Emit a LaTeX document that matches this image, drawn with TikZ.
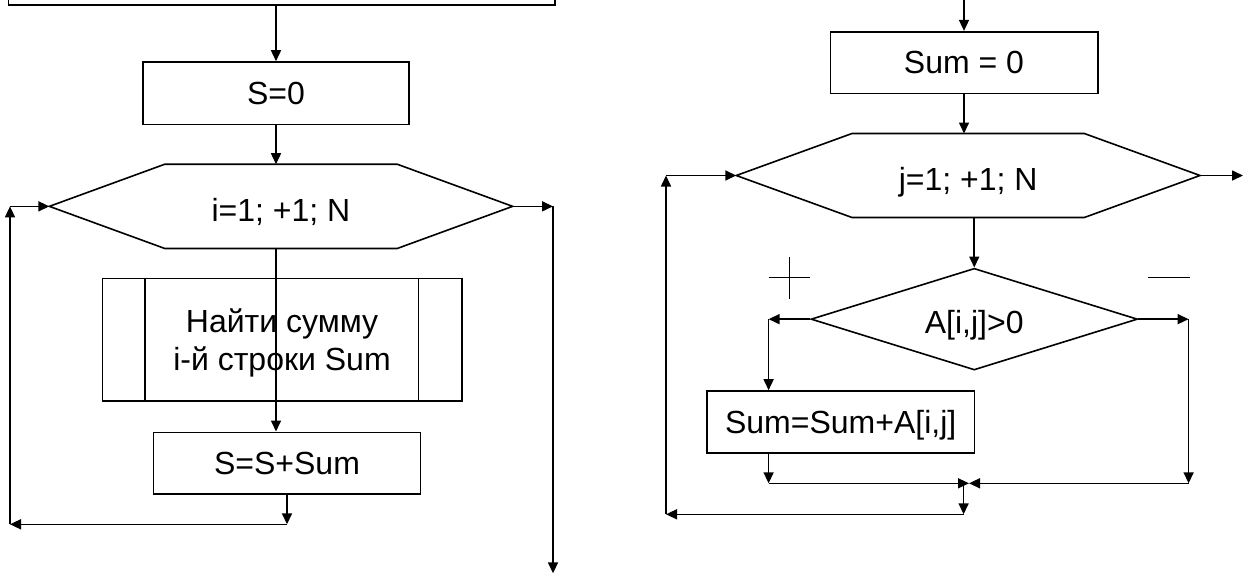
\documentclass[tikz,border=0pt]{standalone}
\usepackage{fontspec}
\setmainfont{Liberation Sans}
\usetikzlibrary{arrows.meta,shapes.geometric}
\begin{document}
\begin{tikzpicture}[x=1pt,y=-1pt,line width=1.6pt,
  every node/.style={font=\fontsize{32}{38}\selectfont, inner sep=0pt},
  box/.style={draw, rectangle, fill=white, text depth=0pt},
  hexbox/.style={rectangle, draw=none},
  lbl/.style={text depth=0pt},
  dia/.style={draw, diamond, text depth=0pt},
  arr/.style={-{Triangle[length=11pt,width=10pt]}},
  sign/.style={line width=1pt}]
\useasboundingbox (0,0) rectangle (1244,582);
% ---------------- left part ----------------
\node[box, minimum width=546.7pt, minimum height=60pt] (top) at (281.65,-25) {};
\node[box, minimum width=266pt, minimum height=62.3pt] (s0) at (276,93.15) {S=0};
\draw[arr] (top.south -| s0.north) -- (s0.north);
\node[hexbox, minimum width=461.7pt, minimum height=82.7pt] (h1) at (281,206.35) {};
\node[lbl] (h1t) at (281,210) {i=1; +1; N};
\draw (h1.west) -- ([xshift=115.5pt]h1.north west) -- ([xshift=-115.5pt]h1.north east)
  -- (h1.east) -- ([xshift=-115.5pt]h1.south east) -- ([xshift=115.5pt]h1.south west) -- cycle;
\draw[arr] (s0.south) -- (s0.south |- h1.north);
\node[box, minimum width=359.4pt, minimum height=122.7pt, align=center] (p) at (282,339.65)
  {Найти сумму\\i-й строки Sum};
\draw ([xshift=43.4pt]p.north west) -- ([xshift=43.4pt]p.south west);
\draw ([xshift=-44pt]p.north east) -- ([xshift=-44pt]p.south east);
\node[box, minimum width=267.1pt, minimum height=61.7pt] (ssum) at (287,463.15) {S=S+Sum};
\draw[arr] ([xshift=-5pt]h1.south) -- ([xshift=-5pt]h1.south |- ssum.north);
\coordinate (lb) at (287,524.3);
\coordinate (ll) at (10,524.3);
\draw[arr] (ssum.south) -- (lb);
\draw[arr] (lb) -- (ll);
\draw[arr] (ll) -- (ll |- h1.west);
\draw[arr] (ll |- h1.west) -- (h1.west);
\coordinate (ex) at (553,206.35);
\coordinate (exb) at (553,573.3);
\draw[arr] (h1.east) -- (ex);
\draw[arr] (ex) -- (exb);
% ---------------- right part ----------------
\coordinate (rt) at (964,-5);
\node[box, minimum width=267.4pt, minimum height=61.6pt] (sum0) at (964,62.5) {Sum = 0};
\draw[arr] (rt) -- (sum0.north);
\node[hexbox, minimum width=462.1pt, minimum height=82.4pt] (h2) at (968.15,175.5) {};
\node[lbl] (h2t) at (968.15,179) {j=1; +1; N};
\draw (h2.west) -- ([xshift=115.7pt]h2.north west) -- ([xshift=-115.7pt]h2.north east)
  -- (h2.east) -- ([xshift=-115.7pt]h2.south east) -- ([xshift=115.7pt]h2.south west) -- cycle;
\draw[arr] (sum0.south) -- (sum0.south |- h2.north);
\coordinate (rex) at (1243,175.5);
\draw[arr] (h2.east) -- (rex);
\node[dia, minimum width=326.5pt, minimum height=101.7pt] (d) at (974.25,319.15) {};
\node[lbl] (dt) at (974.25,322) {A[i,j]>0};
\draw[arr] (d.north |- h2.south) -- (d.north);
% + and - signs
\draw[sign] (768.6,277.7) -- (810.2,277.7) (789.4,257.3) -- (789.4,299);
\draw[sign] (1148,277.7) -- (1189.8,277.7);
\node[box, minimum width=267.8pt, minimum height=61.7pt] (add) at (840.7,421.85) {Sum=Sum+A[i,j]};
\coordinate (lbr) at (768.6,319.15);
\coordinate (rbr) at (1188.6,319.15);
\draw[arr] (d.west) -- (lbr);
\draw[arr] (lbr) -- (lbr |- add.north);
\draw[arr] (d.east) -- (rbr);
\coordinate (lbm) at (768.6,483.3);
\coordinate (rbm) at (1188.6,483.3);
\draw[arr] (rbr) -- (rbm);
\draw[arr] (lbm |- add.south) -- (lbm);
\coordinate (mid) at (969,483.3);
\draw[arr] (lbm) -- (mid);
\draw[arr] (rbm) -- (mid);
\coordinate (mdn) at (963.6,483.3);
\coordinate (bot) at (963.6,514.3);
\coordinate (bl) at (666,514.3);
\draw[arr] (mdn) -- (bot);
\draw[arr] (bot) -- (bl);
\draw[arr] (bl) -- (bl |- h2.west);
\draw[arr] (bl |- h2.west) -- (h2.west);
\end{tikzpicture}
\end{document}
